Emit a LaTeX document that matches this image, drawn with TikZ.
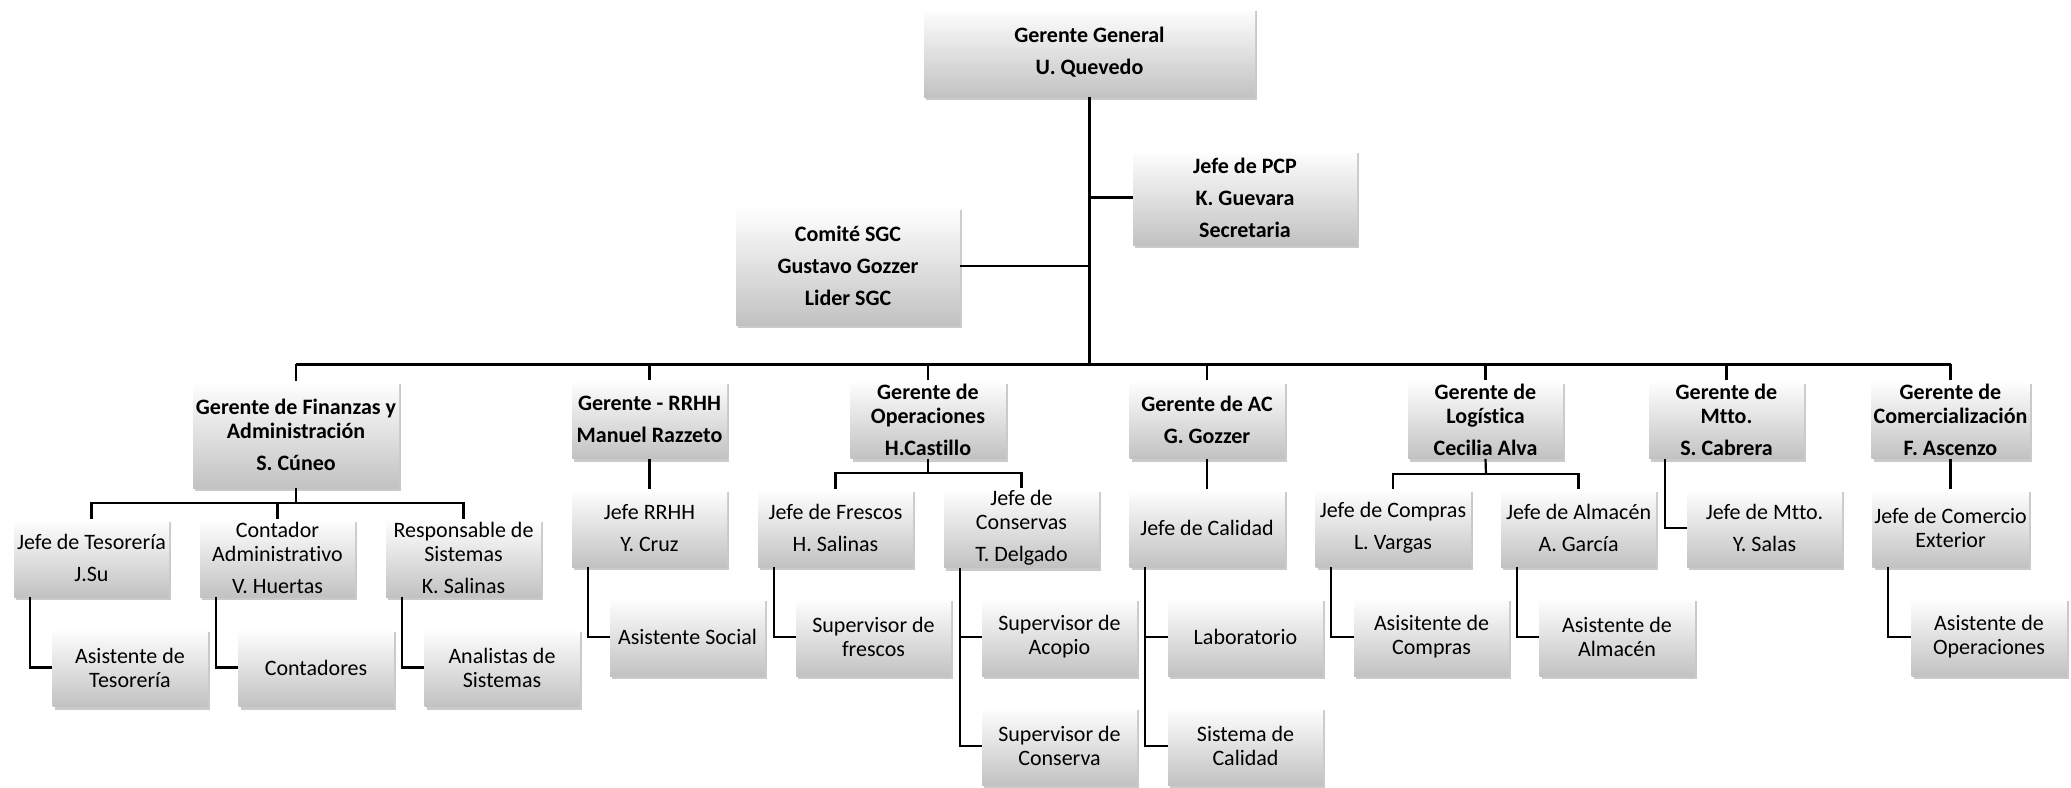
\documentclass[tikz,border=0pt]{standalone}
\usepackage{fontspec}
\setmainfont{Carlito}[Ligatures={NoCommon,NoContextual}]
\usepackage{tikz}
\usetikzlibrary{positioning,shadows,calc}

\begin{document}
\begin{tikzpicture}[
  x=0.5pt, y=-0.5pt,
  font=\fontsize{11}{12}\selectfont,
  unit/.style={top color=white, bottom color=black!24, draw=none,
               drop shadow={shadow xshift=1.2pt, shadow yshift=-1.6pt,
                            opacity=0.35, fill=black!60},
               align=center, inner sep=1pt,
               minimum width=77.5pt, minimum height=39pt},
  head/.style={unit, font=\fontsize{11}{12}\selectfont\bfseries},
  ln/.style={draw=black, line width=1.1pt},
  lnT/.style={draw=black, line width=1.5pt}
]
\useasboundingbox (0,0) rectangle (2071,787);

% ==== row geometry (pixel rows of the chart)
\def\ya{419.5}  \def\yf{434.5}                    % managers, finanzas manager
\def\yb{528}    \def\ybf{558}                     % jefes, finanzas jefes
\def\yc{637}    \def\ycf{667.5}   \def\yd{746}    % assistants

% ==== top: general manager and staff
\node[head, minimum width=165.5pt, minimum height=44.5pt] (gg) at (1089.5,52.5)
     {Gerente General\\[4pt]U. Quevedo};
\node[head, minimum width=112pt, minimum height=47.5pt] (pcp) at (1245,197.5)
     {Jefe de PCP\\[4pt]K. Guevara\\[4pt]Secretaria};
\node[head, minimum width=112pt, minimum height=59pt] (sgc) at (848,266)
     {Comité SGC\\[4pt]Gustavo Gozzer\\[4pt]Lider SGC};

% ==== managers
\node[head, minimum width=103pt, minimum height=53.5pt] (fin) at (296,\yf)
     {Gerente de Finanzas y\\Administración\\[4pt]S. Cúneo};
\node[head] (rrhh) at (649.5,\ya) {Gerente - RRHH\\[4pt]Manuel Razzeto};
\node[head] (ope)  at (928,\ya)   {Gerente de\\Operaciones\\[4pt]H.Castillo};
\node[head] (ac)   at (1207,\ya)  {Gerente de AC\\[4pt]G. Gozzer};
\node[head] (log)  at (1485.5,\ya) {Gerente de\\Logística\\[4pt]Cecilia Alva};
\node[head] (mtto) at (1726.5,\ya) {Gerente de\\Mtto.\\[4pt]S. Cabrera};
\node[head] (com)  at (1950.5,\ya) {Gerente de\\Comercialización\\[4pt]F. Ascenzo};

% ==== jefes
\node[unit] (tes)   at (91.5,\ybf)  {Jefe de Tesorería\\[4pt]J.Su};
\node[unit] (cont)  at (277.5,\ybf) {Contador\\Administrativo\\[4pt]V. Huertas};
\node[unit] (resp)  at (463.5,\ybf) {Responsable de\\Sistemas\\[4pt]K. Salinas};
\node[unit] (jrrhh) at (649.5,\yb)  {Jefe RRHH\\[4pt]Y. Cruz};
\node[unit] (fres)  at (835.5,\yb)  {Jefe de Frescos\\[4pt]H. Salinas};
\node[unit] (cons)  at (1021.5,\yb) {Jefe de\\Conservas\\[4pt]T. Delgado};
\node[unit] (cal)   at (1207,\yb)   {Jefe de Calidad};
\node[unit] (comp)  at (1393,\yb)   {Jefe de Compras\\[4pt]L. Vargas};
\node[unit] (alm)   at (1578.5,\yb) {Jefe de Almacén\\[4pt]A. García};
\node[unit] (jmtto) at (1764.5,\yb) {Jefe de Mtto.\\[4pt]Y. Salas};
\node[unit] (jce)   at (1950.5,\yb) {Jefe de Comercio\\Exterior};

% ==== assistants
\node[unit] (ates)  at (130,\ycf)   {Asistente de\\Tesorería};
\node[unit] (ctdr)  at (316,\ycf)   {Contadores};
\node[unit] (anal)  at (502,\ycf)   {Analistas de\\Sistemas};
\node[unit] (asoc)  at (687.5,\yc)  {Asistente Social};
\node[unit] (sfres) at (873.5,\yc)  {Supervisor de\\frescos};
\node[unit] (sacop) at (1059.5,\yc) {Supervisor de\\Acopio};
\node[unit] (scons) at (1059.5,\yd) {Supervisor de\\Conserva};
\node[unit] (lab)   at (1245.5,\yc) {Laboratorio};
\node[unit] (scal)  at (1245.5,\yd) {Sistema de\\Calidad};
\node[unit] (acomp) at (1431.5,\yc) {Asisitente de\\Compras};
\node[unit] (aalm)  at (1617,\yc)   {Asistente de\\Almacén};
\node[unit] (aope)  at (1989,\yc)   {Asistente de\\Operaciones};

% ==== trunk and main bus
\coordinate (bus) at (1090,364);
\draw[lnT] (gg.south) -- (gg.south |- bus);
\draw[ln] (pcp.west) -- (pcp.west -| gg.south);
\draw[ln] (sgc.east) -- (sgc.east -| gg.south);
\draw[lnT] (fin.north |- bus) -- (com.north |- bus);
\foreach \n in {fin,rrhh,ope,ac,log,mtto,com} {
  \draw[ln] (\n.north) -- (\n.north |- bus);
}

% ==== manager to jefes
\coordinate (finbus) at (296,503);
\draw[ln] (fin.south) -- (finbus);
\draw[ln] (tes.north) |- (finbus) -| (resp.north);
\draw[ln] (cont.north) -- (cont.north |- finbus);

\coordinate (opebus) at (928,473);
\draw[ln] (ope.south) -- (opebus);
\draw[ln] (fres.north) |- (opebus) -| (cons.north);

\coordinate (logbus) at (1486,474);
\draw[ln] (log.south) -- (logbus);
\draw[ln] (comp.north) |- (logbus) -| (alm.north);

\foreach \p/\c in {rrhh/jrrhh, ac/cal, com/jce} {
  \draw[ln] (\p.south) -- (\c.north);
}

% ==== side branches down to the assistants
\foreach \p/\c in {tes/ates, cont/ctdr, resp/anal, jrrhh/asoc, fres/sfres,
                   cons/sacop, cons/scons, cal/lab, cal/scal, comp/acomp,
                   alm/aalm, mtto/jmtto, jce/aope} {
  \draw[ln] ([xshift=8pt]\p.south west) |- (\c.west);
}

\end{tikzpicture}
\end{document}
